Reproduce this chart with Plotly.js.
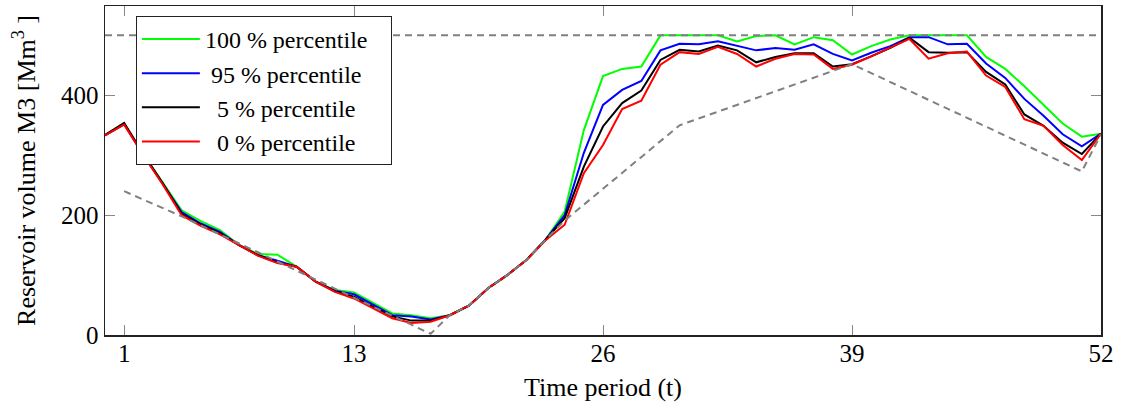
<!DOCTYPE html>
<html>
<head>
<meta charset="utf-8">
<script src="https://cdn.plot.ly/plotly-3.0.1.min.js"></script>
<style>html,body{margin:0;padding:0;background:#fff;}#chart{width:1122px;height:410px;}</style>
</head>
<body>
<div id="chart"></div>
<script>
// Time periods
const periods = [0,1,2,3,4,5,6,7,8,9,10,11,12,13,14,15,16,17,18,19,20,21,22,23,24,25,26,27,28,29,30,31,32,33,34,35,36,37,38,39,40,41,42,43,44,45,46,47,48,49,50,51,52];

// Reservoir volume percentiles [Mm3]
const p100 = [333,352,302,256,208,190,175,150,135,134,114,89,75,71,53,36,33,28,33,49,78,100,125,159,206,342,432,444,448,500,500,500,500,490,499,500,485,497,492,468,482,493,500,500,500,500,464,444,415,384,353,331,336];
const p95  = [333,352,301,254,205,186,172,150,133,124,114,89,74,68,50,33,31,26,33,49,78,100,125,159,200,304,384,409,424,475,486,485,490,483,475,479,476,485,469,458,471,482,497,497,485,486,453,429,394,366,335,315,336];
const p5   = [334,354,302,254,202,184,170,150,133,121,114,89,73,64,47,31,24,24,33,49,78,100,125,159,195,281,348,387,408,459,476,473,483,475,455,464,470,470,448,452,465,479,496,472,471,472,439,418,368,349,321,302,336];
const p0   = [333,351,300,252,200,182,168,150,132,120,114,89,72,61,45,28,20,22,33,49,78,100,125,158,184,270,317,377,391,451,472,469,481,469,448,461,469,468,444,451,465,479,494,461,470,473,433,414,360,349,317,292,336];

// Bounds (dashed)
const maxT   = [0,52];
const maxVol = [500,500];
const minT   = [1,4,17,18,19,20,21,22,23,24,30,39,51,52];
const minVol = [240,198,2,33,49,78,100,125,159,191,350,452,273,335];

const names = ['100 % percentile\u00a0\u00a0\u00a0','\u00a095 % percentile','\u00a0\u00a05 % percentile','\u00a0\u00a00 % percentile'];
const colors = ['#00ff00','#0000ff','#000000','#ff0000'];
const series = [p100,p95,p5,p0];

const font = 'Liberation Serif';
const traces = series.map((s,i)=>({
  x: periods, y: s, type:'scatter', mode:'lines', name:names[i],
  line:{color:colors[i], width:2}
}));
const dashStyle = {color:'#808080', width:2, dash:'7px,5px'};
traces.push({x:maxT, y:maxVol, type:'scatter', mode:'lines', showlegend:false, line:dashStyle, hoverinfo:'skip'});
traces.push({x:minT, y:minVol, type:'scatter', mode:'lines', showlegend:false, line:dashStyle, hoverinfo:'skip'});

const layout = {
  width:1122, height:410,
  margin:{l:105, r:21, t:6, b:75},
  paper_bgcolor:'#fff', plot_bgcolor:'#fff',
  font:{family:font, size:24, color:'#000'},
  showlegend:true,
  legend:{x:0.031, y:0.97, xanchor:'left', yanchor:'top', bgcolor:'#fff', bordercolor:'#222', borderwidth:1,
          font:{family:font, size:24, color:'#000'}, tracegroupgap:0, itemwidth:58},
  xaxis:{range:[0,52], tickvals:[1,13,26,39,52], ticktext:['1','13','26','39','52'],
         ticks:'inside', ticklen:10, tickcolor:'#888', tickwidth:1,
         tickfont:{family:font, size:25, color:'#000'}, ticklabelstandoff:-5,
         showline:true, linecolor:'#222', linewidth:1.5, mirror:'ticks',
         showgrid:false, zeroline:false,
         title:{text:'Time period (t)', font:{family:font, size:26, color:'#000'}, standoff:12}},
  yaxis:{range:[0,549], tickvals:[0,200,400],
         ticks:'inside', ticklen:10, tickcolor:'#888', tickwidth:1,
         tickfont:{family:font, size:25, color:'#000'},
         showline:true, linecolor:'#222', linewidth:1.5, mirror:'ticks',
         showgrid:false, zeroline:false,
         title:{text:'Reservoir volume M3 [Mm<sup>3</sup> ]', font:{family:font, size:26, color:'#000'}, standoff:18}}
};
Plotly.newPlot('chart', traces, layout, {displayModeBar:false, staticPlot:true});
</script>
</body>
</html>
